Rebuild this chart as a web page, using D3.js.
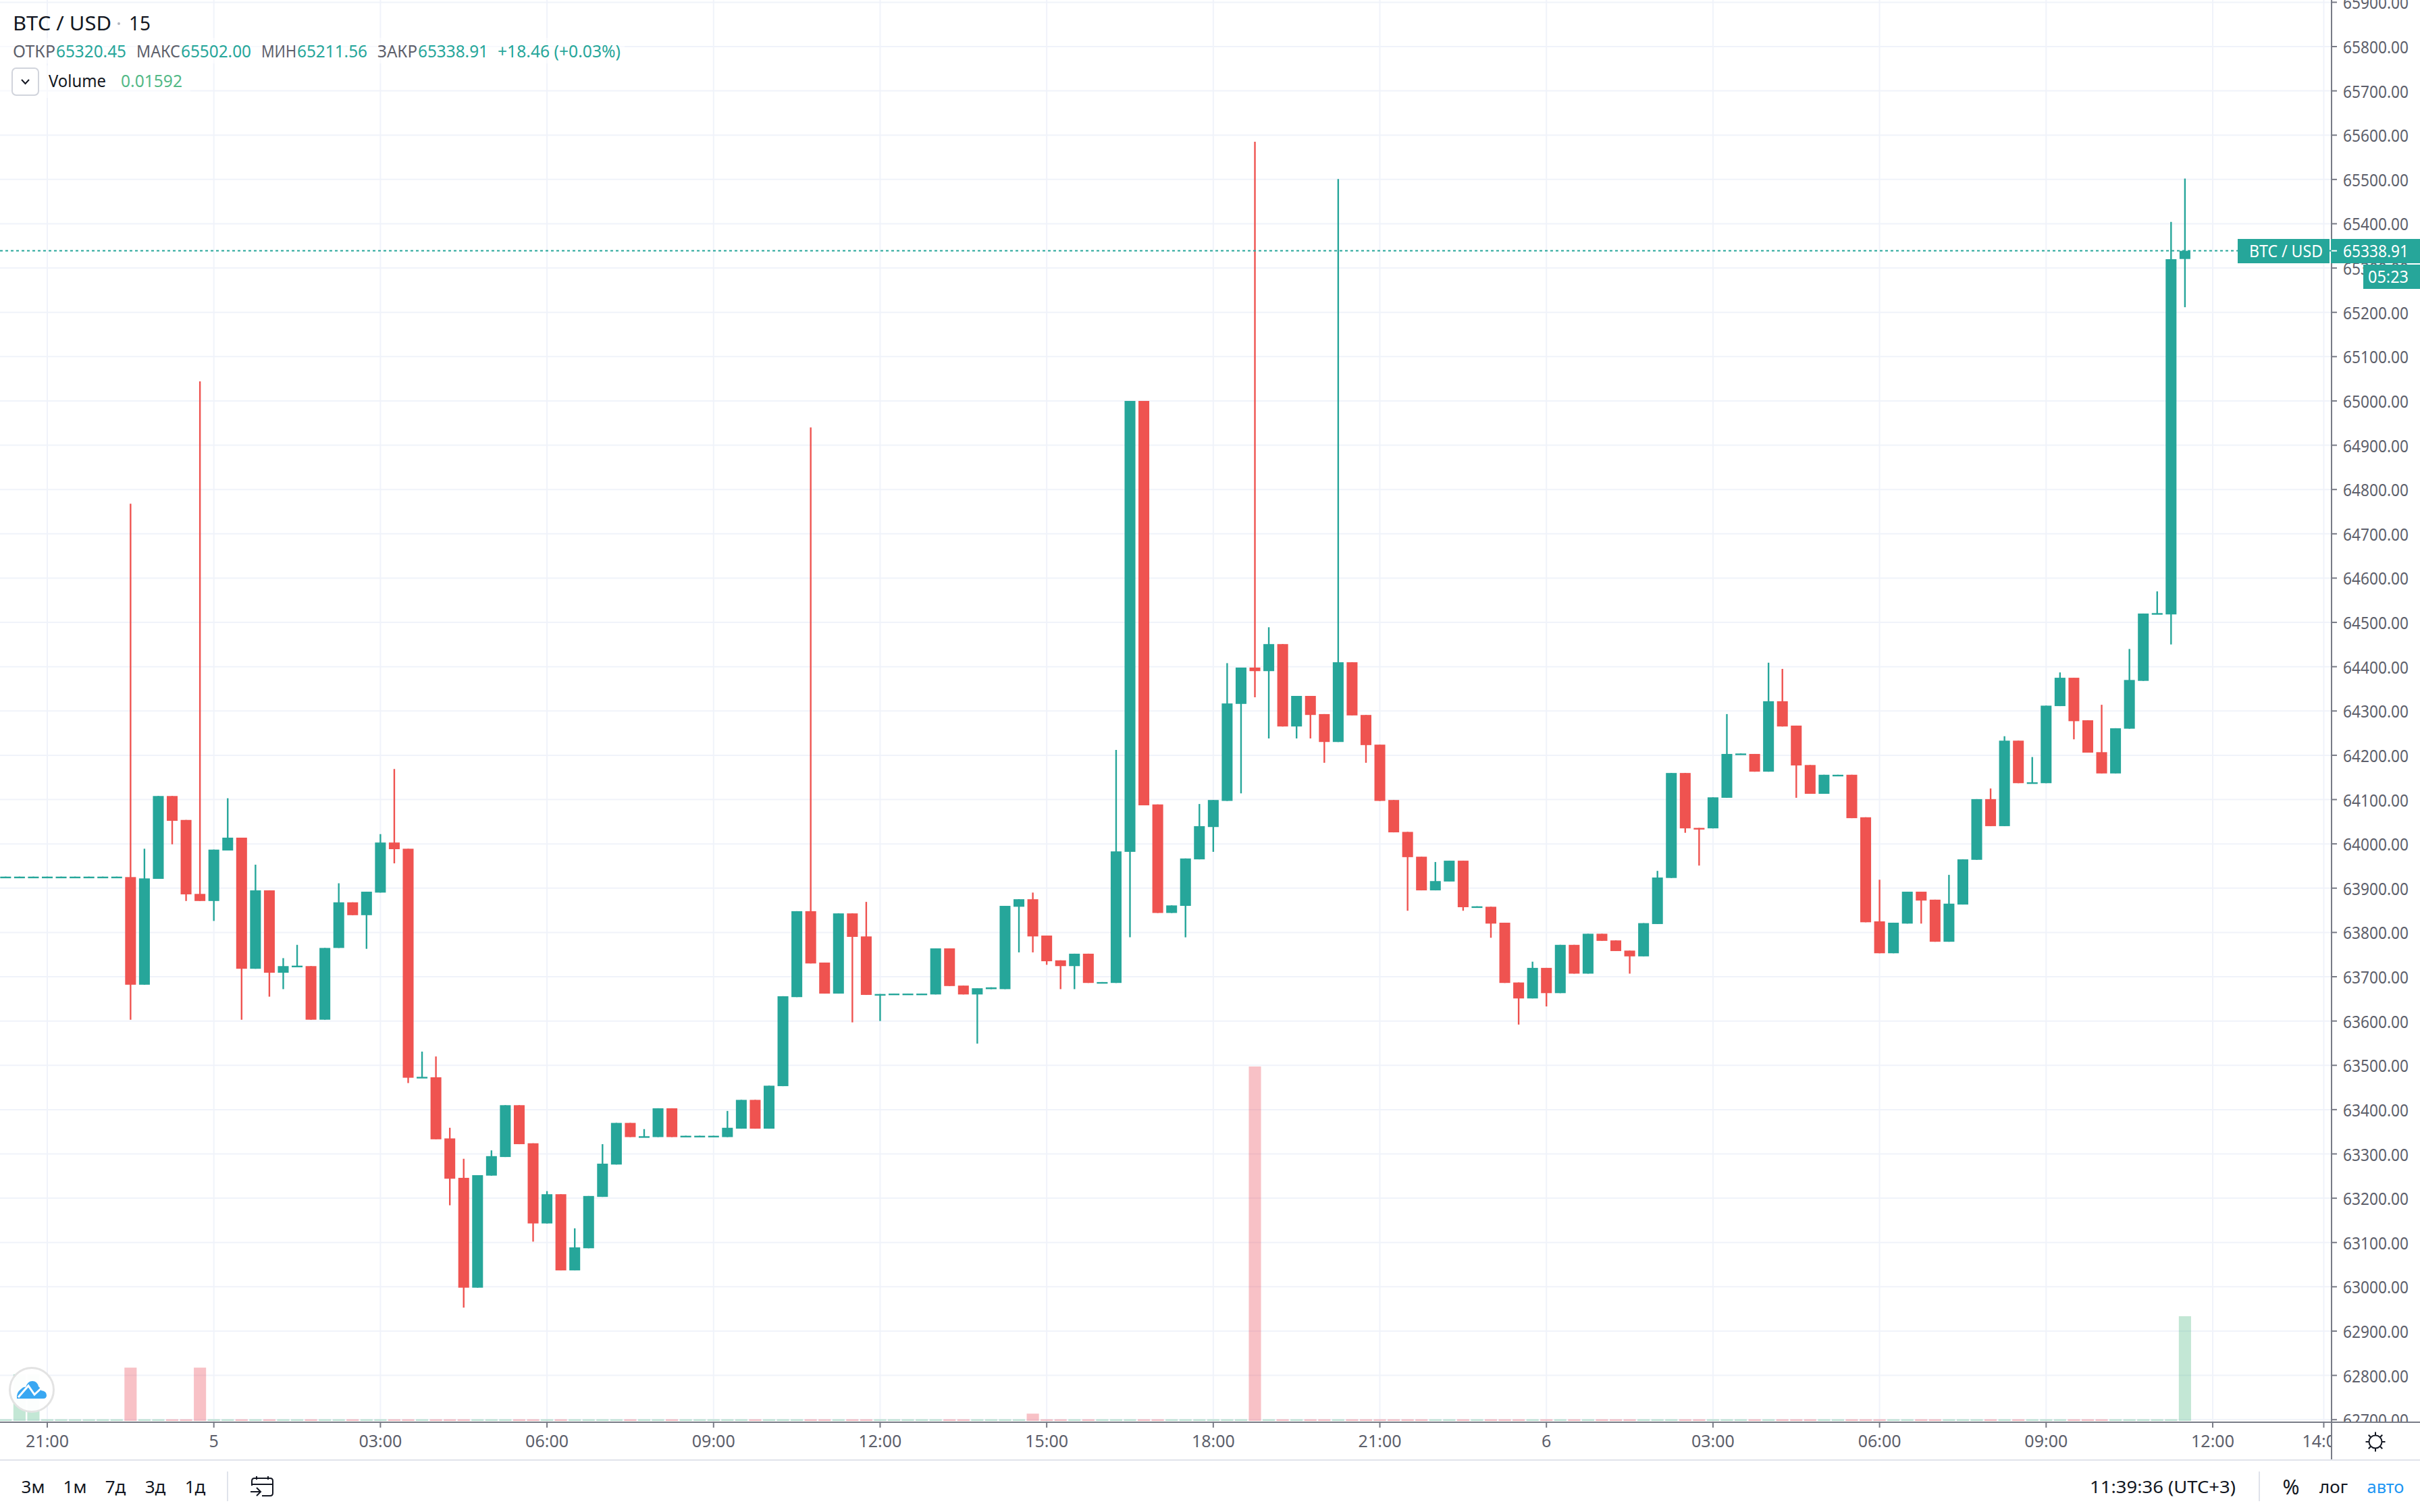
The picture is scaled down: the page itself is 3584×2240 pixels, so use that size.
<!DOCTYPE html>
<html>
<head>
<meta charset="utf-8">
<title>BTC / USD 15</title>
<script src="https://cdn.jsdelivr.net/npm/d3@7"></script>
<style>
html, body { margin: 0; padding: 0; background: #fff; }
svg { display: block; }
text { font-family: "Noto Sans", sans-serif; }
</style>
</head>
<body>
<svg id="chart" width="3584" height="2240"></svg>
<script>
// one value per 15 minute bar, left to right
var opens = [
 63924,63924,63924,63924,63924,63924,63924,63924,63924,
 63925,63682,63921,64108,64054,63887,63871,63985,64014,63718,63895,63709,63723,63724,63603,63765,63868,63839,63890,64003,
 63989,63472,63473,63335,63246,62998,63251,63293,63410,63324,63143,63209,63037,63087,63203,63276,63370,63338,63338,63403,
 63339,63339,63339,63338,63357,63422,63357,63453,63654,63848,63732,63662,63843,63791,63660,63660,63660,63660,63660,63764,
 63680,63660,63672,63672,63858,63875,63793,63737,63724,63752,63686,63686,63982,65000,64089,63844,63860,63965,64038,64097,
 64316,64398,64390,64451,64265,64334,64293,64230,64410,64291,64224,64099,64027,63971,63895,63915,63962,63857,63858,63822,
 63687,63651,63720,63663,63772,63707,63797,63782,63759,63746,63819,63923,64160,64036,64035,64104,64202,64203,64163,64322,
 64267,64178,64113,64154,64156,64060,63825,63753,63820,63892,63874,63779,63863,63964,64101,64040,64233,64137,64137,64311,
 64375,64279,64207,64159,64260,64368,64519,64518,65320.45
];
var highs = [
 63926,63926,63926,63926,63926,63926,63926,63926,63926,
 64768,63989,64108,64108,64054,65044,63987,64103,64014,63953,63895,63742,63772,63724,63765,63911,63868,63892,64022,64169,
 63989,63531,63520,63359,63289,63252,63308,63410,63410,63324,63216,63209,63132,63205,63322,63370,63370,63356,63403,63403,
 63341,63341,63341,63397,63422,63422,63454,63656,63848,64940,63732,63843,63843,63869,63661,63662,63662,63662,63764,63764,
 63680,63674,63676,63860,63875,63890,63793,63737,63752,63752,63688,64212,65000,65000,64089,63861,63967,64090,64099,64408,
 64398,65585,64489,64451,64334,64334,64293,65501,64410,64291,64224,64099,64027,63971,63959,63962,63962,63859,63858,63822,
 63687,63734,63720,63772,63772,63797,63797,63782,63759,63821,63939,64160,64160,64036,64105,64293,64204,64203,64409,64395,
 64267,64178,64156,64156,64156,64060,63919,63822,63892,63892,63874,63930,63965,64101,64125,64243,64233,64196,64312,64387,
 64375,64279,64314,64261,64440,64520,64570,65404,65502.00
];
var lows = [
 63924,63924,63924,63924,63924,63924,63924,63924,63924,
 63603,63682,63921,63999,63871,63871,63826,63985,63603,63718,63655,63672,63723,63603,63603,63765,63839,63763,63890,63956,
 63460,63472,63333,63184,62953,62998,63251,63293,63322,63102,63143,63037,63037,63087,63203,63276,63338,63338,63338,63338,
 63339,63339,63339,63338,63357,63357,63357,63453,63654,63730,63662,63662,63597,63659,63600,63660,63660,63660,63660,63679,
 63660,63549,63672,63672,63755,63755,63727,63672,63672,63686,63686,63686,63789,64087,63844,63844,63789,63965,63982,64097,
 64114,64331,64238,64265,64238,64238,64183,64230,64290,64183,64097,64026,63849,63895,63895,63915,63849,63857,63788,63686,
 63592,63651,63633,63663,63707,63707,63781,63758,63707,63746,63819,63923,64025,63951,64035,64104,64202,64163,64163,64265,
 64104,64113,64113,64154,64058,63823,63753,63753,63820,63820,63779,63779,63863,63964,64040,64040,64137,64137,64137,64311,
 64236,64206,64159,64159,64260,64368,64519,64450,65211.56
];
var closes = [
 63926,63926,63926,63926,63926,63926,63926,63926,63926,
 63682,63922,64108,64052,63886,63871,63987,64014,63718,63895,63709,63724,63725,63603,63765,63868,63839,63892,64003,63988,
 63472,63474,63333,63244,62998,63252,63295,63410,63322,63143,63209,63037,63089,63205,63278,63370,63338,63340,63403,63338,
 63341,63341,63341,63359,63422,63357,63454,63656,63848,63730,63662,63843,63790,63659,63661,63662,63662,63662,63764,63679,
 63660,63674,63676,63860,63875,63791,63735,63724,63752,63686,63688,63983,65000,64087,63844,63861,63967,64040,64099,64317,
 64398,64390,64451,64265,64334,64291,64230,64410,64290,64223,64097,64026,63970,63895,63916,63962,63857,63859,63820,63686,
 63651,63720,63663,63772,63707,63797,63781,63758,63746,63821,63924,64160,64035,64034,64105,64203,64204,64163,64322,64265,
 64177,64113,64156,64156,64058,63823,63753,63822,63892,63872,63779,63865,63965,64101,64040,64233,64137,64139,64312,64375,
 64277,64206,64159,64261,64370,64520,64521,65320,65338.91
];
var volumes = [
 0.00024,0.0071,0.0071,0.00024,0.00024,0.00024,0.00024,0.00024,0.00024,
 0.0081,0.00024,0.00024,0.00024,0.00024,0.0081,0.00024,0.00024,0.00024,0.00024,0.00024,0.00024,0.00024,0.00024,0.00024,0.00024,0.00024,0.00024,0.00024,0.00024,
 0.00024,0.00024,0.00024,0.00024,0.00024,0.00024,0.00024,0.00024,0.00024,0.00024,0.00024,0.00024,0.00024,0.00024,0.00024,0.00024,0.00024,0.00024,0.00024,0.00024,
 0.00024,0.00024,0.00024,0.00024,0.00024,0.00024,0.00024,0.00024,0.00024,0.00024,0.00024,0.00024,0.00024,0.00024,0.00024,0.00024,0.00024,0.00024,0.00024,0.00024,
 0.00024,0.00024,0.00024,0.00024,0.00024,0.0011,0.00024,0.00024,0.00024,0.00024,0.00024,0.00024,0.00024,0.00024,0.00024,0.00024,0.00024,0.00024,0.00024,0.00024,
 0.00024,0.0539,0.00024,0.00024,0.00024,0.00024,0.00024,0.00024,0.00024,0.00024,0.00024,0.00024,0.00024,0.00024,0.00024,0.00024,0.00024,0.00024,0.00024,0.00024,
 0.00024,0.00024,0.00024,0.00024,0.00024,0.00024,0.00024,0.00024,0.00024,0.00024,0.00024,0.00024,0.00024,0.00024,0.00024,0.00024,0.00024,0.00024,0.00024,0.00024,
 0.00024,0.00024,0.00024,0.00024,0.00024,0.00024,0.00024,0.00024,0.00024,0.00024,0.00024,0.00024,0.00024,0.00024,0.00024,0.00024,0.00024,0.00024,0.00024,0.00024,
 0.00024,0.00024,0.00024,0.00024,0.00024,0.00024,0.00024,0.00024,0.01592
];
var priceTicks = [65900,65800,65700,65600,65500,65400,65300,65200,65100,65000,64900,64800,64700,64600,64500,64400,64300,64200,64100,64000,
 63900,63800,63700,63600,63500,63400,63300,63200,63100,63000,62900,62800,62700];
var timeTickBars = [3,15,27,39,51,63,75,87,99,111,123,135,147,159,167];
var timeTickLabels = ["21:00","5","03:00","06:00","09:00","12:00","15:00","18:00","21:00","6","03:00","06:00","09:00","12:00","14:00"];
var rangeButtons = ["3м","1м","7д","3д","1д"];
var lastPrice = 65338.91;

var upColor = "#26a69a", downColor = "#ef5350", gridColor = "#f0f3fa", axisColor = "#787b86", textColor = "#131722", labelGray = "#5d606b";

function main() {
    var svg = d3.select("#chart");
    var plotRight = 3453, axisY = 2107;

    var x = d3.scaleLinear().domain([3, 159]).range([70, 3277]);
    var y = d3.scaleLinear().domain([65800, 62800]).range([69, 2037.6]);
    var vol = d3.scaleLinear().domain([0, 0.0539]).range([2105, 1580]);
    var step = x(1) - x(0);
    var bodyW = step * 0.78, volW = step * 0.88;
    var bars = d3.range(closes.length);

    var defs = svg.append("defs");
    defs.append("clipPath").attr("id", "plot").append("rect").attr("width", plotRight).attr("height", axisY);
    defs.append("clipPath").attr("id", "timeclip").append("rect").attr("y", axisY).attr("width", plotRight).attr("height", 60);
    defs.append("clipPath").attr("id", "priceclip").append("rect").attr("x", plotRight).attr("width", 131).attr("height", axisY);

    var plot = svg.append("g").attr("clip-path", "url(#plot)");

    // grid
    plot.selectAll(".hgrid").data(priceTicks).enter().append("line")
        .attr("class", "hgrid")
        .attr("x1", 0).attr("x2", plotRight)
        .attr("y1", function(d) { return y(d); }).attr("y2", function(d) { return y(d); })
        .attr("stroke", gridColor).attr("stroke-width", 2);
    plot.selectAll(".vgrid").data(timeTickBars).enter().append("line")
        .attr("class", "vgrid")
        .attr("y1", 0).attr("y2", axisY)
        .attr("x1", function(d) { return x(d); }).attr("x2", function(d) { return x(d); })
        .attr("stroke", gridColor).attr("stroke-width", 2);

    // volume
    plot.selectAll(".vol").data(bars).enter().append("rect")
        .attr("class", "vol")
        .attr("x", function(i) { return x(i) - volW / 2; })
        .attr("width", volW)
        .attr("y", function(i) { return vol(volumes[i]); })
        .attr("height", function(i) { return vol(0) - vol(volumes[i]); })
        .attr("fill", function(i) { return closes[i] >= opens[i] ? "#53b987" : "#eb4d5c"; })
        .attr("fill-opacity", 0.35);

    // candles
    function color(i) { return closes[i] >= opens[i] ? upColor : downColor; }
    plot.selectAll(".wick").data(bars).enter().append("line")
        .attr("class", "wick")
        .attr("x1", function(i) { return x(i); }).attr("x2", function(i) { return x(i); })
        .attr("y1", function(i) { return y(highs[i]); }).attr("y2", function(i) { return y(lows[i]); })
        .attr("stroke", color).attr("stroke-width", 2.4);
    plot.selectAll(".body").data(bars).enter().append("rect")
        .attr("class", "body")
        .attr("x", function(i) { return x(i) - bodyW / 2; })
        .attr("width", bodyW)
        .attr("y", function(i) { return y(Math.max(opens[i], closes[i])); })
        .attr("height", function(i) { return Math.max(2.4, Math.abs(y(opens[i]) - y(closes[i]))); })
        .attr("fill", color);

    // last price line
    plot.append("line")
        .attr("x1", 0).attr("x2", plotRight)
        .attr("y1", y(lastPrice)).attr("y2", y(lastPrice))
        .attr("stroke", upColor).attr("stroke-width", 2).attr("stroke-dasharray", "4,4");

    // axes
    var priceAxis = d3.axisRight(y).tickValues(priceTicks).tickFormat(d3.format(".2f")).tickSize(8).tickPadding(9).offset(0);
    var pa = svg.append("g").attr("clip-path", "url(#priceclip)")
        .append("g").attr("transform", "translate(" + plotRight + ",0)").call(priceAxis);
    var timeAxis = d3.axisBottom(x).tickValues(timeTickBars).tickFormat(function(d, i) { return timeTickLabels[i]; }).tickSize(8).tickPadding(11).offset(0);
    var ta = svg.append("g").attr("clip-path", "url(#timeclip)")
        .append("g").attr("transform", "translate(0," + axisY + ")").call(timeAxis);
    [pa, ta].forEach(function(a) {
        a.select(".domain").remove();
        a.attr("font-family", null).attr("font-size", 25);
        a.selectAll("line").attr("stroke", axisColor).attr("stroke-width", 2);
        a.selectAll("text").attr("fill", labelGray);
    });
    pa.selectAll("text").attr("textLength", 97).attr("lengthAdjust", "spacingAndGlyphs").attr("dy", "0.4em");

    line(svg, 0, axisY, 3584, axisY, axisColor);
    line(svg, plotRight, 0, plotRight, 2162, axisColor);
    line(svg, 0, 2163, 3584, 2163, "#e0e3eb");
    line(svg, 337, 2180, 337, 2224, "#e0e3eb");
    line(svg, 3346, 2180, 3346, 2224, "#e0e3eb");

    // last price labels
    box(svg, 3314, 354, 136, 36, upColor);
    box(svg, 3452, 354, 132, 36, upColor);
    box(svg, 3500, 392, 84, 36, upColor);
    line(svg, plotRight, y(lastPrice), plotRight + 8, y(lastPrice), "#ffffff");
    label(svg, 3331, 372, "BTC / USD", 25, "#fff", "start", 109);
    label(svg, 3470, 372, d3.format(".2f")(lastPrice), 25, "#fff", "start", 97);
    label(svg, 3537, 410, "05:23", 25, "#fff", "middle", 60);

    // legend
    box(svg, 0, 56, 925, 38, "#fff", 0.5);
    box(svg, 0, 97, 282, 48, "#fff", 0.5);
    label(svg, 19, 35, "BTC / USD", 29, textColor, "start", 146);
    svg.append("circle").attr("cx", 176).attr("cy", 35).attr("r", 2).attr("fill", "#b2b5be");
    label(svg, 191, 35, "15", 29, textColor, "start", 32);

    var ohlcNames = ["ОТКР", "МАКС", "МИН", "ЗАКР"];
    var ohlcValues = [opens[opens.length - 1], highs[highs.length - 1], lows[lows.length - 1], closes[closes.length - 1]];
    var nameX = [19, 202, 387, 559], nameW = [63, 65, 52, 59], valueX = [83, 268, 440, 619];
    ohlcNames.forEach(function(n, i) {
        label(svg, nameX[i], 76, n, 25, labelGray, "start", nameW[i]);
        label(svg, valueX[i], 76, d3.format(".2f")(ohlcValues[i]), 25, upColor, "start", 104);
    });
    label(svg, 737, 76, "+18.46 (+0.03%)", 25, upColor, "start", 182);

    svg.append("rect").attr("x", 18).attr("y", 101).attr("width", 39).attr("height", 40).attr("rx", 6)
        .attr("fill", "#fff").attr("stroke", "#d1d4dc").attr("stroke-width", 2);
    svg.append("path").attr("d", "M32,118 L37.5,124 L43,118").attr("fill", "none").attr("stroke", textColor).attr("stroke-width", 2);
    label(svg, 72, 120, "Volume", 25, textColor, "start", 85);
    label(svg, 179, 120, d3.format(".5f")(volumes[volumes.length - 1]), 25, "#53b987", "start", 91);

    // bottom bar
    var buttonX = [49, 111, 171, 230, 289];
    rangeButtons.forEach(function(b, i) {
        label(svg, buttonX[i], 2203, b, 26, textColor, "middle");
    });
    label(svg, 3095, 2203, "11:39:36 (UTC+3)", 26, textColor, "start", 216);
    label(svg, 3393, 2203, "%", 30, textColor, "middle", 25);
    label(svg, 3456, 2203, "лог", 26, textColor, "middle", 42);
    label(svg, 3533, 2203, "авто", 26, "#2196f3", "middle", 55);

    // calendar icon
    svg.append("path")
        .attr("d", "M373,2201 V2194 Q373,2190 377,2190 H400 Q404,2190 404,2194 V2212 Q404,2216 400,2216 H388 M373,2199 H404 M380,2187 V2192 M397,2187 V2192 M371,2210 H386 M380,2204 L386,2210 L380,2216")
        .attr("fill", "none").attr("stroke", textColor).attr("stroke-width", 2);

    // settings icon
    var sun = svg.append("g").attr("transform", "translate(3518,2136)").attr("fill", "none").attr("stroke", textColor).attr("stroke-width", 2);
    sun.append("circle").attr("r", 9.5);
    d3.range(8).forEach(function(k) {
        var a = k * Math.PI / 4;
        sun.append("line").attr("x1", 10 * Math.cos(a)).attr("y1", 10 * Math.sin(a)).attr("x2", 14.5 * Math.cos(a)).attr("y2", 14.5 * Math.sin(a));
    });

    // logo
    var logo = svg.append("g").attr("transform", "translate(47,2059)");
    logo.append("circle").attr("r", 32.5).attr("fill", "#fff").attr("fill-opacity", 0.95).attr("stroke", "#e3e3e3").attr("stroke-width", 3);
    logo.append("path")
        .attr("d", "M-22,13 Q-23,4 -16,-1 Q-12,-5 -9,-4 Q-6,-13 1,-13 Q8,-13 10,-5 Q13,-3 14,1 Q22,2 22,8 Q22,13 17,13 Z")
        .attr("fill", "#39a7f2");
    logo.append("path")
        .attr("d", "M-20,11 L-5,-6 L4,7 L18,-6")
        .attr("fill", "none").attr("stroke", "#fff").attr("stroke-width", 3);
}

function line(svg, x1, y1, x2, y2, c) {
    svg.append("line").attr("x1", x1).attr("y1", y1).attr("x2", x2).attr("y2", y2).attr("stroke", c).attr("stroke-width", 2);
}

function box(svg, x, y, w, h, c, op) {
    svg.append("rect").attr("x", x).attr("y", y).attr("width", w).attr("height", h).attr("fill", c).attr("fill-opacity", op === undefined ? 1 : op);
}

function label(svg, x, y, str, size, c, anchor, len) {
    var t = svg.append("text").attr("x", x).attr("y", y).attr("dy", "0.35em")
        .attr("font-size", size).attr("fill", c).attr("text-anchor", anchor).text(str);
    if (len) t.attr("textLength", len).attr("lengthAdjust", "spacingAndGlyphs");
    return t;
}

main();
</script>
</body>
</html>
